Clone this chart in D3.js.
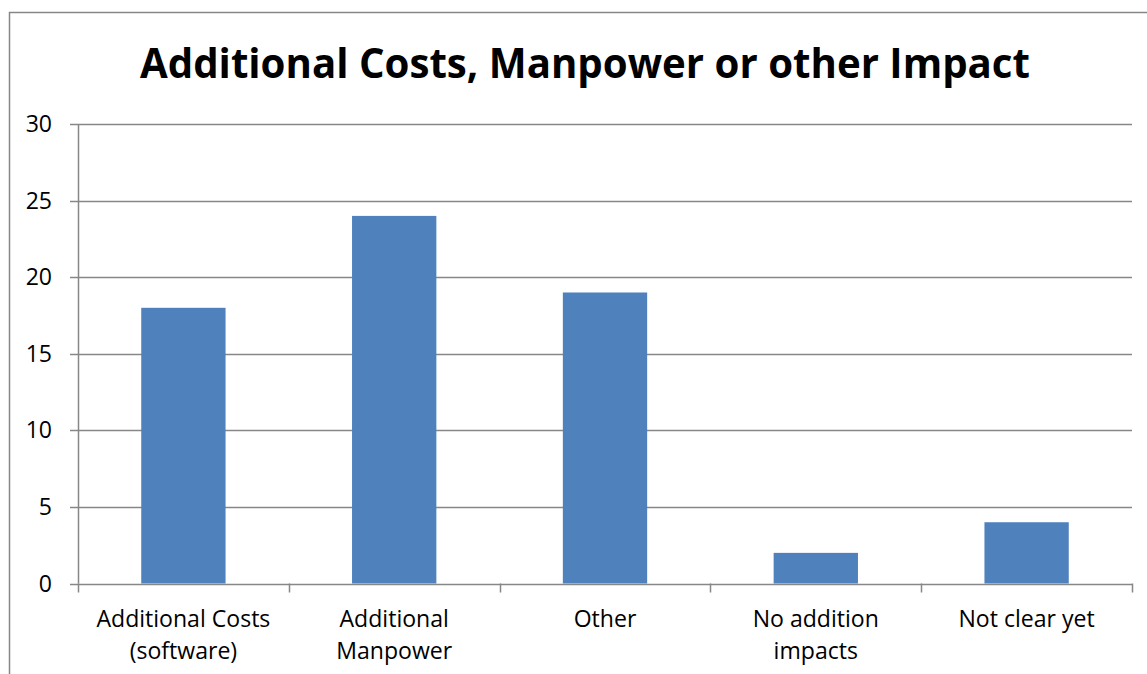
<!DOCTYPE html>
<html>
<head>
<meta charset="utf-8">
<script src="https://cdn.jsdelivr.net/npm/d3@7"></script>
<style>
  body { margin: 0; background: #fff; }
  svg { display: block; }
  text { font-family: "Open Sans", "Liberation Sans", sans-serif; fill: #000; }
</style>
</head>
<body>
<div id="chart"></div>
<script>
// Chart data
const categories = [["Additional Costs", "(software)"], ["Additional", "Manpower"], ["Other"], ["No addition", "impacts"], ["Not clear yet"]];
const values = [18, 24, 19, 2, 4];
const yTicks = [0, 5, 10, 15, 20, 25, 30];
const title = "Additional Costs, Manpower or other Impact";

const width = 1147, height = 674;
const margin = { left: 78, right: 15, top: 124, bottom: 90 };

const svg = d3.select('#chart')
    .append('svg')
    .attr('width', width)
    .attr('height', height);

// outer chart frame (runs off the right and bottom edges)
svg.append('rect')
    .attr('x', 9.5).attr('y', 12.5)
    .attr('width', 1160).attr('height', 700)
    .attr('fill', 'none')
    .attr('stroke', '#878787')
    .attr('stroke-width', 1.5);

// fit a text element to a target width by changing its font size
function fitWidth(sel, target, size) {
    sel.style('font-size', size + 'px');
    const w = sel.node().getComputedTextLength();
    sel.style('font-size', (size * target / w) + 'px');
}

// title: taller glyphs squeezed to the reference width
svg.append('text')
    .attr('x', 585).attr('y', 78)
    .attr('text-anchor', 'middle')
    .attr('textLength', 890)
    .attr('lengthAdjust', 'spacingAndGlyphs')
    .style('font-weight', 'bold')
    .style('font-size', '41px')
    .text(title);

const x = d3.scaleBand()
    .domain(d3.range(categories.length))
    .range([margin.left, 1132])
    .paddingInner(0.6)
    .paddingOuter(0.3);

const y = d3.scaleLinear()
    .domain([0, 30])
    .range([583.5, margin.top]);

// grid lines
svg.append('g')
    .selectAll('line')
    .data(yTicks)
    .enter()
    .append('line')
    .attr('x1', 70).attr('x2', 1132)
    .attr('y1', d => Math.round(y(d)) + 0.5)
    .attr('y2', d => Math.round(y(d)) + 0.5)
    .attr('stroke', '#878787')
    .attr('stroke-width', 1.5);

// bars
svg.append('g')
    .selectAll('rect')
    .data(values)
    .enter()
    .append('rect')
    .attr('x', (d, i) => x(i))
    .attr('width', x.bandwidth())
    .attr('y', d => y(d))
    .attr('height', d => y(0) - y(d))
    .attr('fill', '#4F81BD');

// y axis line
svg.append('line')
    .attr('x1', margin.left + 0.5).attr('x2', margin.left + 0.5)
    .attr('y1', y(30)).attr('y2', y(0))
    .attr('stroke', '#878787')
    .attr('stroke-width', 1.5);

// x axis ticks at category boundaries
const bounds = d3.range(categories.length + 1).map(i => margin.left + i * (1132 - margin.left) / categories.length);
svg.append('g')
    .selectAll('line')
    .data(bounds)
    .enter()
    .append('line')
    .attr('x1', d => Math.round(d) + 0.5).attr('x2', d => Math.round(d) + 0.5)
    .attr('y1', y(0)).attr('y2', y(0) + 9)
    .attr('stroke', '#878787')
    .attr('stroke-width', 1.5);

// y tick labels
const yl = svg.append('g')
    .selectAll('text')
    .data(yTicks)
    .enter()
    .append('text')
    .attr('x', 52)
    .attr('y', d => y(d) + 8)
    .attr('text-anchor', 'end')
    .style('font-size', '20px')
    .text(d => d);

// category labels
const cl = svg.append('g')
    .selectAll('text')
    .data(categories)
    .enter()
    .append('text')
    .attr('text-anchor', 'middle')
    .style('font-size', '20px');
cl.selectAll('tspan')
    .data((d, i) => d.map((s, j) => ({ s, j, i })))
    .enter()
    .append('tspan')
    .attr('x', d => x(d.i) + x.bandwidth() / 2)
    .attr('y', d => 627 + d.j * 32)
    .text(d => d.s);

// match label size to reference width of "Additional Costs"
const probe = svg.append('text').text('Additional Costs');
fitWidth(probe, 174, 20);
const fs = probe.style('font-size');
probe.remove();
cl.style('font-size', fs);
yl.style('font-size', fs);
</script>
</body>
</html>
